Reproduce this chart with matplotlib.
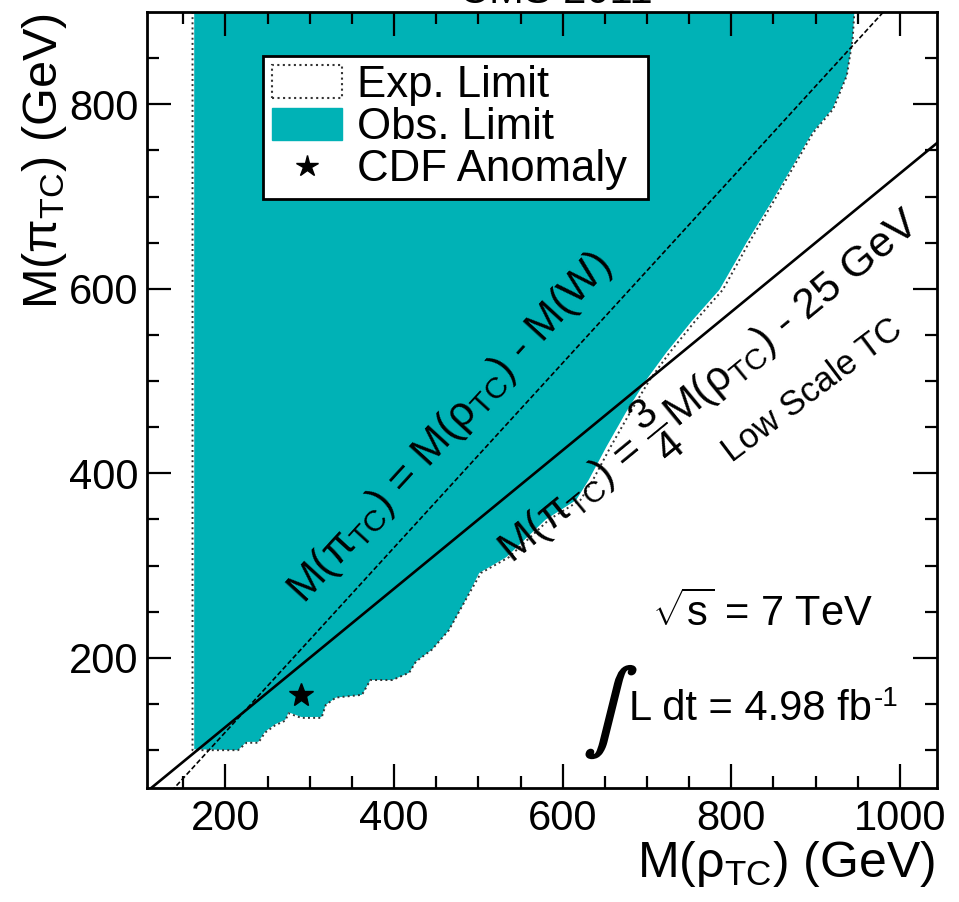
import matplotlib
matplotlib.use("Agg")
import matplotlib.pyplot as plt
import matplotlib.patheffects as pe
from matplotlib.lines import Line2D
from matplotlib.patches import Patch

plt.rcParams["font.family"] = ["Liberation Sans", "DejaVu Sans"]
plt.rcParams["mathtext.fontset"] = "custom"
plt.rcParams["mathtext.rm"] = "Liberation Sans"
plt.rcParams["mathtext.it"] = "Liberation Sans"
plt.rcParams["mathtext.bf"] = "Liberation Sans:bold"

TEAL = "#00b2b6"

# observed limit contour (M(rho_TC), M(pi_TC)) in GeV
obs_rho = [163, 163, 215, 225, 239, 247, 259, 271, 275, 290, 314, 319, 331, 362,
           372, 398, 418, 426, 445, 465, 485, 501, 533, 580, 616, 631, 652, 675,
           699, 723, 754, 786, 818, 849, 896, 920, 937, 944, 946, 946]
obs_pi = [900, 101, 100, 109, 109, 120, 128, 133, 141, 136, 136, 149, 157, 160,
          176, 176, 184, 196, 209, 230, 263, 292, 309, 350, 371, 393, 429, 466,
          501, 531, 566, 599, 650, 696, 769, 795, 831, 871, 900, 900]

# expected limit contour
exp_rho = [161, 161, 215, 225, 239, 247, 259, 271, 275, 290, 314, 319, 331, 362,
           372, 398, 418, 426, 445, 465, 485, 503, 536, 584, 621, 636, 657, 680,
           703, 727, 758, 790, 821, 851, 897, 921, 937, 944, 946]
exp_pi = [900, 100, 100, 108, 108, 119, 127, 132, 140, 135, 135, 149, 157, 160,
          176, 176, 184, 196, 209, 230, 263, 292, 309, 350, 371, 393, 429, 466,
          501, 531, 566, 599, 650, 696, 769, 795, 831, 871, 900]

# reference lines
line_rho = [100, 1050]
line_pi_w = [19.6, 969.6]       # M(pi) = M(rho) - M(W)
line_pi_low = [50, 762.5]       # M(pi) = 3/4 M(rho) - 25 GeV

cdf_rho = [290]
cdf_pi = [160]

x_ticks = [200, 400, 600, 800, 1000]
y_ticks = [200, 400, 600, 800]

fig = plt.figure(figsize=(9.59, 9.02), dpi=100)
ax = fig.add_axes([147 / 959, 114 / 902, 790 / 959, 776 / 902])

ax.fill(obs_rho, obs_pi, color=TEAL, lw=0, zorder=1)
ax.plot(exp_rho, exp_pi, ls=":", color="#333333", lw=1.4, zorder=2)
ax.plot(line_rho, line_pi_w, ls=(0, (3, 1.5)), color="black", lw=1.2, zorder=3)
ax.plot(line_rho, line_pi_low, ls="-", color="black", lw=1.9, zorder=3)
ax.plot(cdf_rho, cdf_pi, ls="none", marker="*", color="black", markersize=18, zorder=4)

ax.set_xlim(107, 1044)
ax.set_ylim(59, 900)
ax.set_xticks(x_ticks)
ax.set_yticks(y_ticks)
ax.set_xticks(range(150, 1044, 50), minor=True)
ax.set_yticks(range(100, 900, 50), minor=True)
ax.tick_params(which="both", direction="in", top=True, right=True, width=1.6,
               labelsize=30)
ax.tick_params(which="major", length=17)
ax.tick_params(which="minor", length=8.5)
ax.tick_params(axis="y", pad=6)
ax.tick_params(axis="x", pad=8)
for s in ax.spines.values():
    s.set_linewidth(2)
    s.set_zorder(6)

ax.text(467, 449, "M(π$_{TC}$) = M(ρ$_{TC}$) - M(W)", fontsize=31, rotation=47.6,
        rotation_mode="anchor", ha="center", va="center", zorder=5)
ax.text(774, 494, "M(π$_{TC}$) = $\\dfrac{3}{4}$M(ρ$_{TC}$) - 25 GeV", fontsize=31,
        rotation=39.4, rotation_mode="anchor", ha="center", va="center", zorder=5)
ax.text(896, 490, "Low Scale TC", fontsize=25, rotation=37,
        rotation_mode="anchor", ha="center", va="center", zorder=5)
ax.text(837, 235, "$\\sqrt{s}$ = 7 TeV", fontsize=30, ha="center", va="baseline")
ax.text(657, 141, "$\\int$", fontsize=58, math_fontfamily="stix",
        ha="center", va="center",
        path_effects=[pe.withStroke(linewidth=1.5, foreground="black")])
lumi = ax.text(679, 133, "L dt = 4.98 fb", fontsize=30, ha="left", va="baseline")
ax.annotate("-1", xy=(1.0, 1.0), xycoords=lumi, xytext=(1, 2),
            textcoords="offset points", fontsize=20, ha="left", va="top")

handles = [
    Patch(facecolor="white", edgecolor="#333333", linestyle=":", lw=1.5),
    Patch(facecolor=TEAL, edgecolor=TEAL),
    Line2D([], [], ls="none", marker="*", color="black", markersize=16),
]
leg = ax.legend(handles, ["Exp. Limit", "Obs. Limit", "CDF Anomaly "],
                loc="upper left", bbox_to_anchor=(0.1468, 0.9433),
                borderaxespad=0, fontsize=31.5, frameon=True, fancybox=False,
                framealpha=1, edgecolor="black", handlelength=1.6,
                handleheight=0.75, handletextpad=0.35, borderpad=0.2,
                labelspacing=0.03)
leg.get_frame().set_linewidth(2)
leg.set_zorder(7)

fig.text(45 / 959, 1 - 13 / 902, "M(π$_{TC}$) (GeV)", fontsize=35,
         rotation=90, ha="center", va="top")
fig.text(935 / 959, 25 / 902, "M(ρ$_{TC}$) (GeV)", fontsize=36,
         ha="right", va="baseline")
fig.text(556 / 959, 1 - 3 / 902, "CMS 2011", fontsize=30, ha="center",
         va="baseline")

fig.savefig("out.png", dpi=100)
